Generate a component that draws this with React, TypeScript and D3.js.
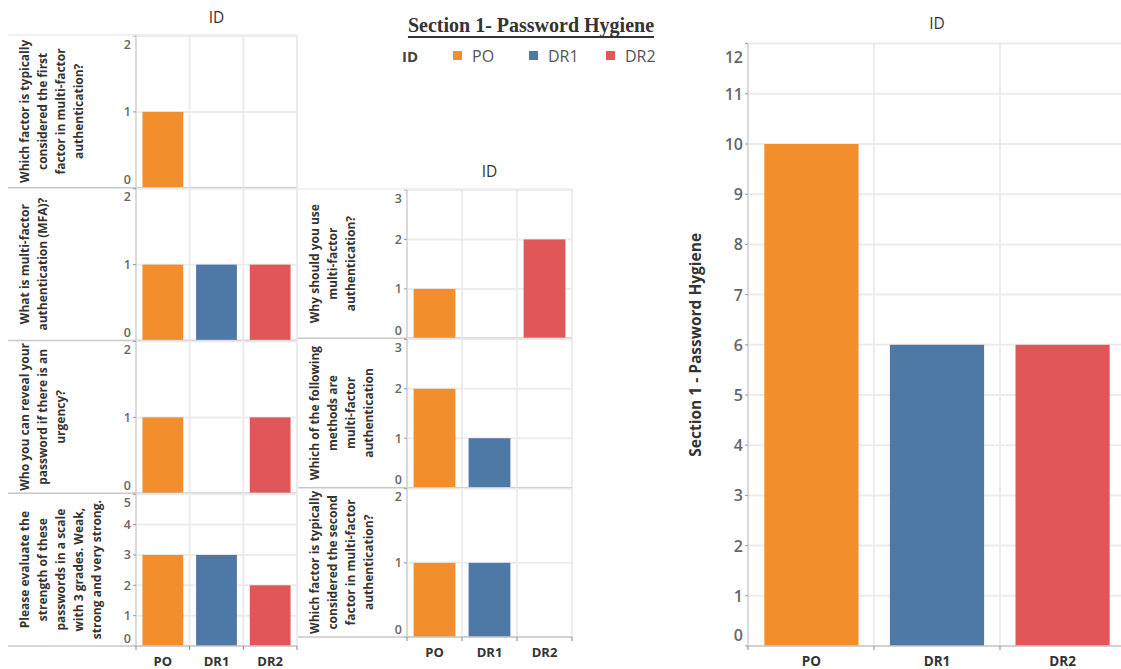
import React from "react";
import * as d3 from "d3";

// categories
const ids = ["PO", "DR1", "DR2"];
const idColors = ["#F28E2B", "#4E79A7", "#E15759"];

// left block of questions
const leftQuestions = [
  ["Which factor is typically", "considered the first", "factor in multi-factor", "authentication?"],
  ["What is multi-factor", "authentication (MFA)?"],
  ["Who you can reveal your", "password if there is an", "urgency?"],
  ["Please evaluate the", "strength of these", "passwords in a scale", "with 3 grades. Weak,", "strong and very strong."],
];
const leftCounts = [
  [1, 0, 0],
  [1, 1, 1],
  [1, 0, 1],
  [3, 3, 2],
];
const leftMax = [2, 2, 2, 5];

// middle block of questions
const midQuestions = [
  ["Why should you use", "multi-factor", "authentication?"],
  ["Which of the following", "methods are", "multi-factor", "authentication"],
  ["Which factor is typically", "considered the second", "factor in multi-factor", "authentication?"],
];
const midCounts = [
  [1, 0, 2],
  [2, 1, 0],
  [1, 1, 0],
];
const midMax = [3, 3, 2];

// section totals
const totals = [10, 6, 6];
const totalMax = 12;

const FONT = "'Open Sans', 'Noto Sans', sans-serif";
const GRID = "#ececec";
const AXIS = "#c8c8c8";
const TICK_TXT = "#666";

interface BlockProps {
  questions: string[][];
  counts: number[][];
  maxes: number[];
  labelLeft: number;
  plotLeft: number;
  plotRight: number;
  top: number;
  bottom: number;
}

function Block({ questions, counts, maxes, labelLeft, plotLeft, plotRight, top, bottom }: BlockProps) {
  const x = d3.scaleBand().domain(ids).range([plotLeft, plotRight]).paddingInner(0.24).paddingOuter(0.12);
  const rowBand = d3.scaleBand().domain(questions.map((_, i) => String(i))).range([top, bottom]);
  const colEdges = d3.range(ids.length + 1).map((i) => plotLeft + ((plotRight - plotLeft) * i) / ids.length);

  return (
    <g>
      {questions.map((q, i) => {
        const r0 = rowBand(String(i)) as number;
        const r1 = r0 + rowBand.bandwidth();
        const y = d3.scaleLinear().domain([0, maxes[i]]).range([r1, r0 + 1]);
        const ticks = d3.range(0, maxes[i] + 1);
        const cy = (r0 + r1) / 2;
        return (
          <g key={i}>
            {/* grid */}
            {colEdges.map((cx, k) => (
              <line key={"v" + k} x1={cx} x2={cx} y1={r0} y2={r1} stroke={GRID} strokeWidth={2} />
            ))}
            {ticks.map((t) => (
              <line key={"h" + t} x1={plotLeft} x2={plotRight} y1={y(t)} y2={y(t)} stroke={GRID} strokeWidth={2} />
            ))}
            {/* bars */}
            {ids.map((id, k) =>
              counts[i][k] > 0 ? (
                <rect
                  key={id}
                  x={x(id)}
                  width={x.bandwidth()}
                  y={y(counts[i][k])}
                  height={y(0) - y(counts[i][k])}
                  fill={idColors[k]}
                />
              ) : null
            )}
            {/* axis */}
            <line x1={plotLeft} x2={plotLeft} y1={r0} y2={r1} stroke={AXIS} strokeWidth={1} />
            {ticks.map((t) => (
              <g key={"t" + t}>
                <line x1={plotLeft - 3} x2={plotLeft} y1={y(t)} y2={y(t)} stroke="#999" />
                <text
                  x={plotLeft - 5}
                  y={Math.min(Math.max(y(t), r0 + 9), r1 - 8)}
                  textAnchor="end"
                  dominantBaseline="central"
                  fontSize={12.5}
                  fontWeight={600}
                  fill={TICK_TXT}
                >
                  {t}
                </text>
              </g>
            ))}
            <line x1={labelLeft} x2={plotRight} y1={r1} y2={r1} stroke={AXIS} strokeWidth={1.5} />
            {/* row label */}
            <text
              transform={`translate(${labelLeft + 16},${cy}) rotate(-90)`}
              textAnchor="middle"
              fontSize={12}
              fontWeight={700}
              fill="#333"
            >
              {q.map((line, j) => (
                <tspan key={j} x={0} y={j * 18.2} dominantBaseline="central">
                  {line}
                </tspan>
              ))}
            </text>
          </g>
        );
      })}
      <line x1={labelLeft} x2={plotRight} y1={top} y2={top} stroke={GRID} strokeWidth={1.5} />
      {/* x axis */}
      {colEdges.map((cx, k) => (
        <line key={"xt" + k} x1={cx} x2={cx} y1={bottom} y2={bottom + 4} stroke="#888" />
      ))}
      {ids.map((id) => (
        <text
          key={id}
          x={(x(id) as number) + x.bandwidth() / 2}
          y={bottom + 15}
          textAnchor="middle"
          dominantBaseline="central"
          fontSize={13}
          fontWeight={700}
          fill="#333"
        >
          {id}
        </text>
      ))}
      <text
        x={(plotLeft + plotRight) / 2}
        y={top - 18}
        textAnchor="middle"
        dominantBaseline="central"
        fontSize={15.5}
        fill="#333"
      >
        ID
      </text>
    </g>
  );
}

function TotalChart() {
  const plotLeft = 748;
  const plotRight = 1126;
  const top = 43.6;
  const bottom = 646;
  const x = d3.scaleBand().domain(ids).range([plotLeft, plotRight]).paddingInner(0.25).paddingOuter(0.13);
  const y = d3.scaleLinear().domain([0, totalMax]).range([bottom, top]);
  const ticks = d3.range(0, totalMax + 1);
  const colEdges = d3.range(ids.length + 1).map((i) => plotLeft + ((plotRight - plotLeft) * i) / ids.length);
  return (
    <g>
      {colEdges.map((cx, k) => (
        <line key={"v" + k} x1={cx} x2={cx} y1={top} y2={bottom} stroke={GRID} strokeWidth={2} />
      ))}
      {ticks.map((t) => (
        <line key={"h" + t} x1={plotLeft} x2={plotRight} y1={y(t)} y2={y(t)} stroke={GRID} strokeWidth={2} />
      ))}
      {ids.map((id, k) => (
        <rect key={id} x={x(id)} width={x.bandwidth()} y={y(totals[k])} height={y(0) - y(totals[k])} fill={idColors[k]} />
      ))}
      <line x1={plotLeft} x2={plotLeft} y1={top} y2={bottom} stroke={AXIS} />
      <line x1={plotLeft} x2={plotRight} y1={bottom} y2={bottom} stroke={AXIS} strokeWidth={1.5} />
      {ticks.map((t) => (
        <g key={"t" + t}>
          <line x1={plotLeft - 3} x2={plotLeft} y1={y(t)} y2={y(t)} stroke="#999" />
          <text
            x={plotLeft - 5}
            y={Math.min(Math.max(y(t), top + 13), bottom - 11)}
            textAnchor="end"
            dominantBaseline="central"
            fontSize={16}
            fontWeight={600}
            fill={TICK_TXT}
          >
            {t}
          </text>
        </g>
      ))}
      {colEdges.map((cx, k) => (
        <line key={"xt" + k} x1={cx} x2={cx} y1={bottom} y2={bottom + 4} stroke="#888" />
      ))}
      {ids.map((id) => (
        <text
          key={id}
          x={(x(id) as number) + x.bandwidth() / 2}
          y={bottom + 15}
          textAnchor="middle"
          dominantBaseline="central"
          fontSize={13.5}
          fontWeight={700}
          fill="#333"
        >
          {id}
        </text>
      ))}
      <text x={937} y={23} textAnchor="middle" dominantBaseline="central" fontSize={15.5} fill="#333">
        ID
      </text>
      <text
        transform={`translate(695,${(top + bottom) / 2}) rotate(-90)`}
        textAnchor="middle"
        dominantBaseline="central"
        fontSize={15.5}
        fontWeight={700}
        fill="#333"
      >
        Section 1 - Password Hygiene
      </text>
    </g>
  );
}

function Legend() {
  const xs = [457, 533, 610];
  return (
    <g fontFamily={FONT}>
      <text x={402} y={56} dominantBaseline="central" fontSize={15} fontWeight={700} fill="#444">
        ID
      </text>
      {ids.map((id, k) => (
        <g key={id}>
          <rect x={xs[k] - 4} y={51} width={9} height={9} fill={idColors[k]} />
          <text x={xs[k] + 15} y={56} dominantBaseline="central" fontSize={16} fill="#555">
            {id}
          </text>
        </g>
      ))}
    </g>
  );
}

export default function App() {
  return (
    <svg
      width={1121}
      height={669}
      style={{ position: "absolute", left: 0, top: 0, background: "#fff" }}
      fontFamily={FONT}
    >
      <Block
        questions={leftQuestions}
        counts={leftCounts}
        maxes={leftMax}
        labelLeft={8}
        plotLeft={136}
        plotRight={297}
        top={35}
        bottom={646}
      />
      <Block
        questions={midQuestions}
        counts={midCounts}
        maxes={midMax}
        labelLeft={298}
        plotLeft={407}
        plotRight={572}
        top={189}
        bottom={637}
      />
      <TotalChart />
      <text
        x={531}
        y={25}
        textAnchor="middle"
        dominantBaseline="central"
        fontFamily="'Liberation Serif', 'Times New Roman', serif"
        fontSize={20}
        fontWeight={700}
        fill="#333"
        textDecoration="underline"
      >
        Section 1- Password Hygiene
      </text>
      <Legend />
    </svg>
  );
}
